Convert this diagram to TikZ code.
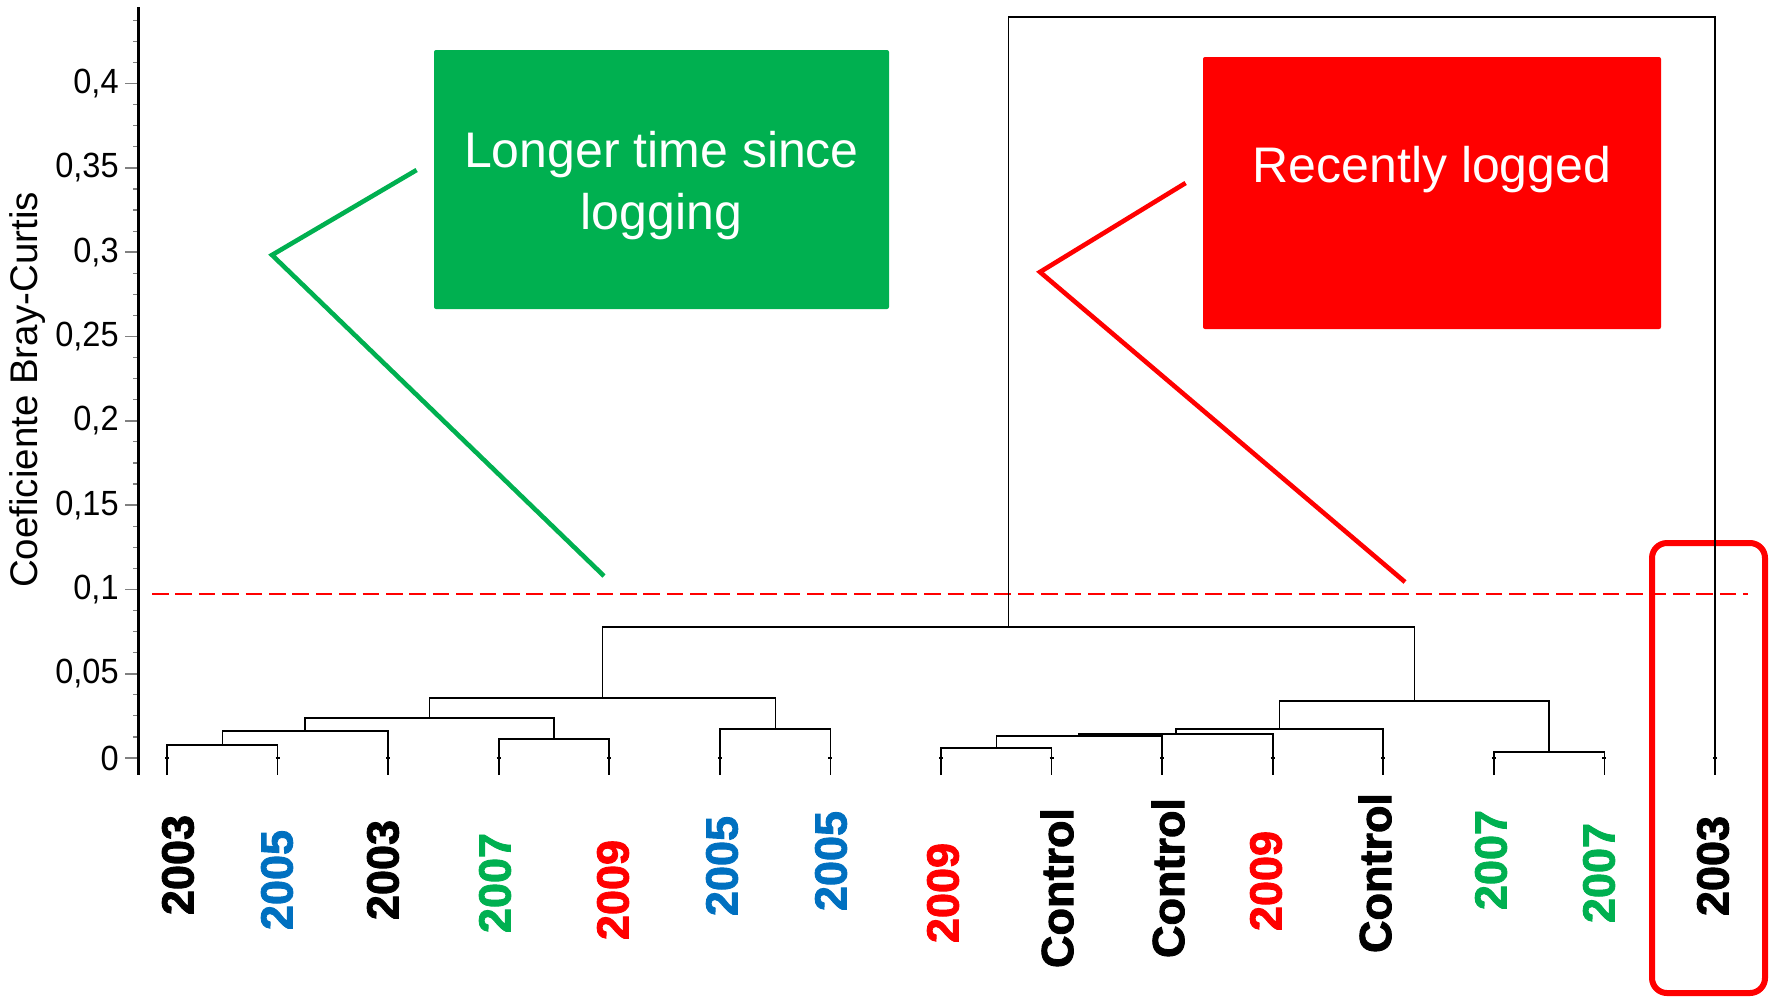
\documentclass[tikz,border=0pt]{standalone}
\usepackage{fontspec}
\setmainfont{Liberation Sans}
\newfontfamily\leaffont[FakeBold=2]{Liberation Sans Bold}
\usetikzlibrary{calc}

\definecolor{ygreen}{RGB}{0,176,80}
\definecolor{yblue}{RGB}{0,112,192}
\definecolor{yred}{RGB}{255,0,0}

\tikzset{
    dendro/.style={black,line width=0.8pt},
    leaflab/.style={rotate=90,inner sep=0pt,font=\fontsize{22.5}{26}\leaffont},
    ticklab/.style={anchor=east,inner sep=0pt,xscale=0.93,font=\fontsize{17.5}{21}\selectfont},
    boxtext/.style={inner sep=0pt,text=white,align=center,font=\fontsize{25}{31}\selectfont},
    callout/.style={line width=2.3pt}
}

\begin{document}
\begin{tikzpicture}[x=0.5pt,y=-0.5pt]
        \useasboundingbox (0,0) rectangle (1773,998);

        % asse y
        \foreach \m in {1,...,35}
            \draw[gray,line width=0.6pt] (133,{758-\m*21.075}) -- (138,{758-\m*21.075});
        \foreach \k/\lab in {0/0,1/{0,05},2/{0,1},3/{0,15},4/{0,2},5/{0,25},6/{0,3},7/{0,35},8/{0,4}} {
            \draw[gray,line width=0.8pt] (125,{758-\k*84.3}) -- (138,{758-\k*84.3});
            \node[ticklab] (t\k) at (119,{758-\k*84.3}) {\lab};
        }
        \draw[black,line width=1.5pt] (138,7) -- (138,775);
        \node[rotate=90,inner sep=0pt,font=\fontsize{19.25}{23}\selectfont] (ytitle) at (28,390) {Coeficiente Bray-Curtis};

        % soglia e gruppo isolato
        \draw[yred,line width=1.35pt,dash pattern=on 8.3pt off 3.4pt] (152,594) -- (1748,594);
        \draw[yred,line width=3pt,rounded corners=7.5pt] (1652,543) rectangle (1765,993);

        % riquadri
        \node[fill=ygreen,minimum width=227.5pt,minimum height=129.5pt,rounded corners=1pt,inner sep=0pt] (longbox) at (661.5,179.5) {};
        \node[boxtext] (longtxt) at (661.5,186) {Longer time since\\logging};
        \node[fill=yred,minimum width=229pt,minimum height=136pt,rounded corners=1pt,inner sep=0pt] (recentbox) at (1432,193) {};
        \node[boxtext,anchor=base] (recenttxt) at (1432,182) {Recently logged};

        \coordinate (g1) at ($(longbox.west)+(-17,-9.5)$);
        \coordinate (g2) at (272,255);
        \coordinate (g3) at (604,576);
        \draw[ygreen,callout] (g1) -- (g2) -- (g3);
        \coordinate (r1) at ($(recentbox.west)+(-17,-10)$);
        \coordinate (r2) at (1040,272);
        \coordinate (r3) at (1405,582);
        \draw[yred,callout] (r1) -- (r2) -- (r3);

        % foglie
        \foreach \i in {1,...,15} {
            \coordinate (p\i) at ({167+(\i-1)*110.57},775);
            \draw[dendro] ($(p\i)+(-2,-17)$) -- ($(p\i)+(2,-17)$);
        }

        \coordinate (c12) at (222.3,745);
        \coordinate (c123) at (305.2,731);
        \coordinate (c45) at (554.0,739);
        \coordinate (c1to5) at (429.6,718);
        \coordinate (c67) at (775.3,729);
        \coordinate (cleft) at (602.5,698);
        \coordinate (c89) at (996.3,748);
        \coordinate (c8to10) at (1079.2,736);
        \coordinate (c8to11) at (1176.0,734);
        \coordinate (c8to12) at (1279.6,729);
        \coordinate (c1314) at (1549.1,752);
        \coordinate (cright) at (1414.4,701);
        \coordinate (cmid) at (1008.4,627);
        \coordinate (ctop) at (1361.7,17);

        % dendrogramma
        \draw[dendro] (p1) |- (c12) -| (p2);
        \draw[dendro] (c12) |- (c123) -| (p3);
        \draw[dendro] (p4) |- (c45) -| (p5);
        \draw[dendro] (c123) |- (c1to5) -| (c45);
        \draw[dendro] (p6) |- (c67) -| (p7);
        \draw[dendro] (c1to5) |- (cleft) -| (c67);
        \draw[dendro] (p8) |- (c89) -| (p9);
        \draw[dendro] (c89) |- (c8to10) -| (p10);
        \draw[dendro] (c8to10) |- (c8to11) -| (p11);
        \draw[dendro] (c8to11) |- (c8to12) -| (p12);
        \draw[dendro] (p13) |- (c1314) -| (p14);
        \draw[dendro] (c8to12) |- (cright) -| (c1314);
        \draw[dendro] (cleft) |- (cmid) -| (cright);
        \draw[dendro] (cmid) |- (ctop) -| (p15);

        % etichette
        \foreach \i/\yr/\col/\cx/\cy in {1/2003/black/178/865, 2/2005/yblue/277/880, 3/2003/black/383/870,
            4/2007/ygreen/495/883, 5/2009/yred/613/890, 6/2005/yblue/722/866, 7/2005/yblue/831/861,
            8/2009/yred/943/893, 9/Control/black/1057/888, 10/Control/black/1168/878, 11/2009/yred/1266/881,
            12/Control/black/1375/873, 13/2007/ygreen/1491/860, 14/2007/ygreen/1599/873, 15/2003/black/1713/866}
            \node[leaflab,text=\col] (l\i) at (\cx,\cy) {\yr};
\end{tikzpicture}
\end{document}
